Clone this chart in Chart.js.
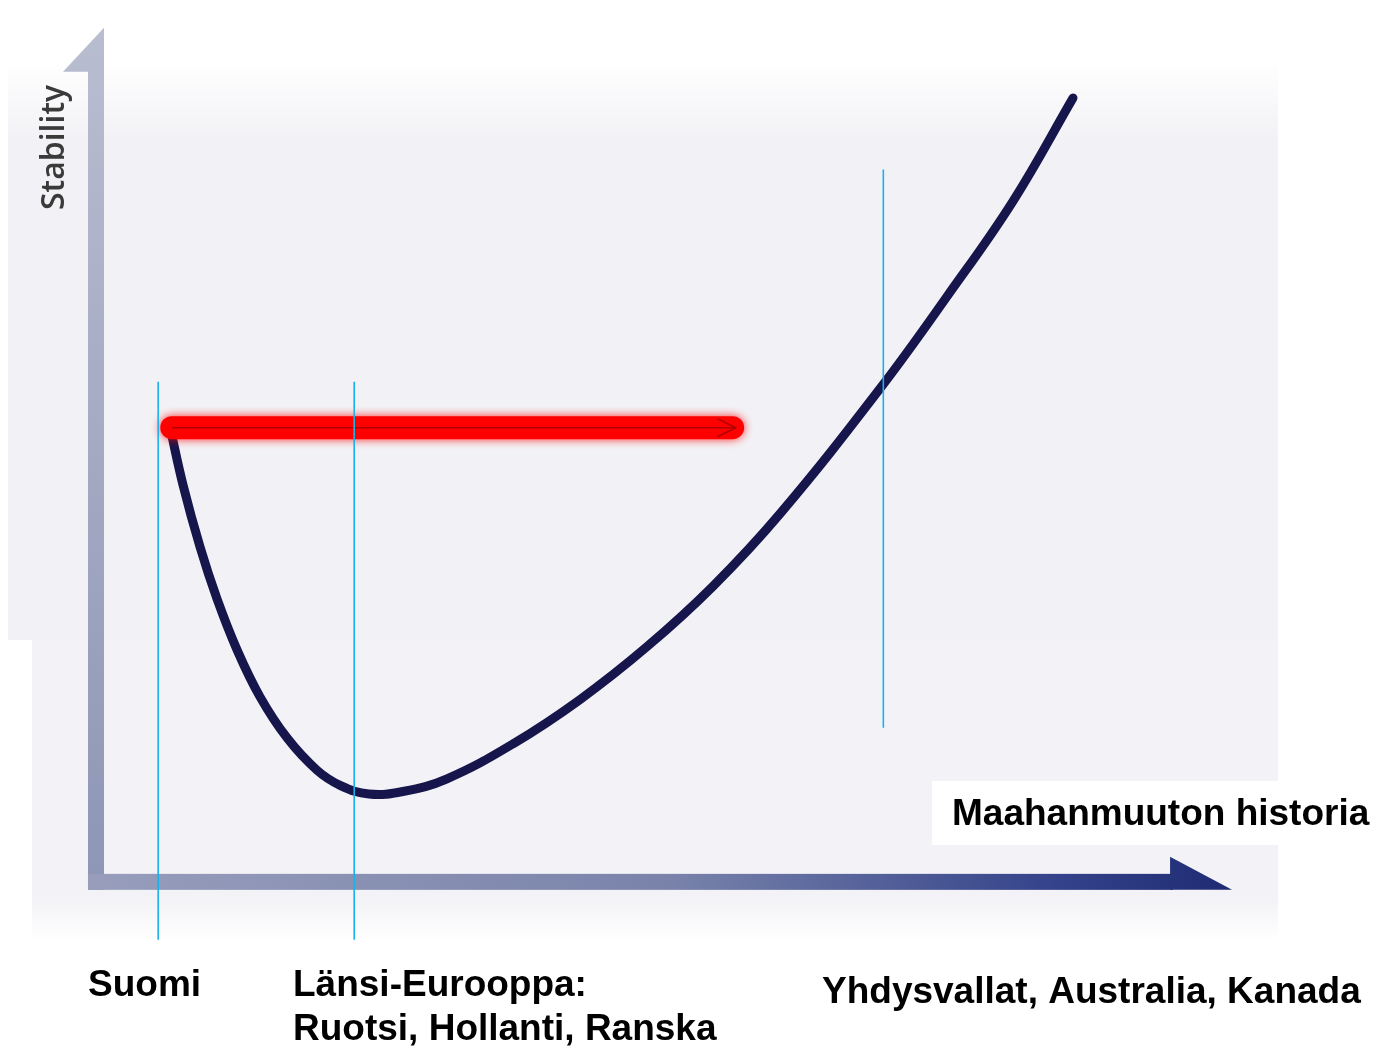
<!DOCTYPE html>
<html>
<head>
<meta charset="utf-8">
<script src="https://cdn.jsdelivr.net/npm/chart.js@4/dist/chart.umd.min.js"></script>
<style>
html,body{margin:0;padding:0;background:#fff;}
#wrap{position:relative;width:1377px;height:1048px;}
canvas{display:block;}
</style>
</head>
<body>
<div id="wrap"><canvas id="c" width="1377" height="1048"></canvas></div>
<script>
// ---- data (abstract units: x = maahanmuuton historia 0..100, y = stability 0..100) ----
const curveX = [6.44, 7.59, 9.09, 10.59, 12.36, 14.39, 16.77, 19.42, 21.5, 24.0, 27.0, 30.89, 36.72, 42.63, 48.54, 54.37, 60.28, 69.11, 75.02, 80.85, 86.14];
const curveY = [53.4, 46.6, 39.32, 33.22, 27.23, 21.71, 16.90, 13.1, 11.3, 10.3, 10.6, 12.1, 16.2, 21.4, 27.6, 34.7, 43.2, 57.9, 68.7, 79.9, 92.0];
const arrowX = [6.6, 56.1];
const arrowY = [53.3, 53.3];
const markerNames = ['Suomi', 'Länsi-Eurooppa:\nRuotsi, Hollanti, Ranska', 'Yhdysvallat, Australia, Kanada'];
const markerX = [5.4, 22.7, 69.4];
const markerYFrom = [-6.8, -6.8, 18.1];
const markerYTo = [58.7, 58.7, 83.6];
const yAxisTitle = 'Stability';
const xAxisTitle = 'Maahanmuuton historia';

const curveData = curveX.map((x, i) => ({x, y: curveY[i]}));
const arrowData = arrowX.map((x, i) => ({x, y: arrowY[i]}));
const markerSets = markerX.map((x, i) => ({
  label: 'm' + i,
  data: [{x, y: markerYFrom[i]}, {x, y: markerYTo[i]}],
  borderColor: '#19b2ea', borderWidth: 1.6, pointRadius: 0, order: 0, tension: 0
}));

const bgPlugin = {
  id: 'bg',
  beforeDraw(chart) {
    const ctx = chart.ctx;
    ctx.save();
    ctx.fillStyle = '#ffffff';
    ctx.fillRect(0, 0, chart.width, chart.height);
    const g = ctx.createLinearGradient(0, 60, 0, 140);
    g.addColorStop(0, 'rgba(242,242,246,0)');
    g.addColorStop(1, 'rgba(242,242,246,1)');
    ctx.fillStyle = g;
    ctx.fillRect(8, 60, 1270, 580);
    ctx.fillStyle = '#f3f3f7';
    ctx.fillRect(32, 640, 1246, 260);
    const g2 = ctx.createLinearGradient(0, 900, 0, 940);
    g2.addColorStop(0, 'rgba(243,243,247,1)');
    g2.addColorStop(1, 'rgba(243,243,247,0)');
    ctx.fillStyle = g2;
    ctx.fillRect(32, 900, 1246, 40);
    ctx.restore();
  },
  beforeDatasetsDraw(chart) {
    const ctx = chart.ctx;
    const xs = chart.scales.x, ys = chart.scales.y;
    const ox = xs.getPixelForValue(0), oy = ys.getPixelForValue(0);
    const topY = ys.getPixelForValue(100);
    const rightX = xs.getPixelForValue(100);
    ctx.save();
    // y axis bar
    const gy = ctx.createLinearGradient(0, topY, 0, oy);
    gy.addColorStop(0, '#b9bdd0');
    gy.addColorStop(1, '#8e96b6');
    ctx.fillStyle = gy;
    ctx.fillRect(ox - 9, topY + 40, 16, oy - topY - 32);
    ctx.beginPath();
    ctx.moveTo(ox + 7, topY - 2);
    ctx.lineTo(ox + 7, topY + 42);
    ctx.lineTo(ox - 34, topY + 42);
    ctx.closePath();
    ctx.fill();
    // x axis bar
    const gx = ctx.createLinearGradient(ox, 0, rightX, 0);
    gx.addColorStop(0, '#979dbb');
    gx.addColorStop(0.5, '#7a84ab');
    gx.addColorStop(0.85, '#33428a');
    gx.addColorStop(1, '#1f2c73');
    ctx.fillStyle = gx;
    ctx.fillRect(ox - 9, oy - 8, rightX - ox - 48, 16);
    ctx.beginPath();
    ctx.moveTo(rightX - 60, oy - 25);
    ctx.lineTo(rightX + 2, oy + 8);
    ctx.lineTo(rightX - 60, oy + 8);
    ctx.closePath();
    ctx.fill();
    ctx.restore();
  },
  beforeDatasetDraw(chart, args) {
    if (args.meta.label === 'arrow') {
      chart.ctx.save();
      chart.ctx.shadowColor = 'rgba(255,0,0,0.85)';
      chart.ctx.shadowBlur = 10;
    }
  },
  afterDatasetDraw(chart, args) {
    if (args.meta.label === 'arrow') {
      const ctx = chart.ctx;
      ctx.restore();
      const xs = chart.scales.x, ys = chart.scales.y;
      const ex = xs.getPixelForValue(arrowX[1]) + 3;
      const ey = ys.getPixelForValue(arrowY[1]);
      ctx.save();
      ctx.strokeStyle = '#b00000';
      ctx.lineWidth = 1.5;
      ctx.beginPath();
      ctx.moveTo(xs.getPixelForValue(arrowX[0]), ey);
      ctx.lineTo(ex, ey);
      ctx.moveTo(ex - 18, ey - 9);
      ctx.lineTo(ex, ey);
      ctx.lineTo(ex - 18, ey + 9);
      ctx.stroke();
      ctx.restore();
    }
  },
  afterDraw(chart) {
    const ctx = chart.ctx;
    const xs = chart.scales.x, ys = chart.scales.y;
    ctx.save();
    // y axis title
    ctx.translate(xs.getPixelForValue(0) - 42, ys.getPixelForValue(86.2));
    ctx.rotate(-Math.PI / 2);
    ctx.fillStyle = '#3a3a3a';
    ctx.font = '600 32px "Open Sans", sans-serif';
    ctx.textAlign = 'center';
    ctx.textBaseline = 'middle';
    ctx.fillText(yAxisTitle, 0, 0);
    ctx.restore();

    ctx.save();
    // x axis title box
    ctx.fillStyle = '#ffffff';
    ctx.fillRect(932, 781, 445, 64);
    ctx.fillStyle = '#000';
    ctx.font = 'bold 37px "Liberation Sans", Arial, sans-serif';
    ctx.textBaseline = 'middle';
    ctx.textAlign = 'left';
    ctx.fillText(xAxisTitle, 952, 815);
    // marker labels
    const labelLeft = [88, 293, 822];
    const labelTop = [986, 986, 993];
    markerNames.forEach((name, i) => {
      name.split('\n').forEach((line, j) => {
        ctx.fillText(line, labelLeft[i], labelTop[i] + j * 44);
      });
    });
    ctx.restore();
  }
};

new Chart(document.getElementById('c'), {
  type: 'line',
  data: {
    datasets: [
      ...markerSets,
      { label: 'arrow', data: arrowData, borderColor: '#ff0000', borderWidth: 23,
        borderCapStyle: 'round', pointRadius: 0, order: 1, tension: 0 },
      { label: 'curve', data: curveData, borderColor: '#16164c', borderWidth: 9,
        borderCapStyle: 'round', borderJoinStyle: 'round', pointRadius: 0, order: 2, tension: 0.4 }
    ]
  },
  options: {
    responsive: false,
    animation: false,
    events: [],
    layout: { padding: 0 },
    plugins: { legend: { display: false }, tooltip: { enabled: false } },
    scales: {
      x: { type: 'linear', min: -8.56, max: 112.97, display: false },
      y: { type: 'linear', min: -19.5, max: 103.5, display: false }
    }
  },
  plugins: [bgPlugin]
});
</script>
</body>
</html>
